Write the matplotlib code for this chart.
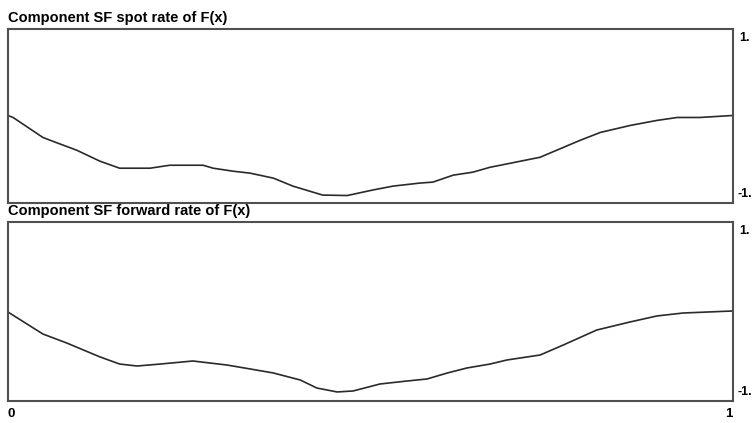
import matplotlib.pyplot as plt
import numpy as np

# component SF, spot rate
spot_x = [0.0, 0.007, 0.048, 0.062, 0.095, 0.127, 0.154, 0.196, 0.223, 0.269,
          0.283, 0.310, 0.334, 0.366, 0.393, 0.434, 0.468, 0.503, 0.531, 0.568,
          0.586, 0.614, 0.641, 0.665, 0.679, 0.734, 0.789, 0.817, 0.858, 0.895,
          0.923, 0.954, 1.0]
spot_y = [0.006, -0.017, -0.246, -0.291, -0.394, -0.52, -0.60, -0.60, -0.566, -0.566,
          -0.60, -0.634, -0.657, -0.714, -0.806, -0.909, -0.914, -0.851, -0.806, -0.771,
          -0.76, -0.68, -0.646, -0.589, -0.566, -0.474, -0.28, -0.189, -0.109, -0.051,
          -0.017, -0.017, 0.006]

# component SF, forward rate
fwd_x = [0.0, 0.048, 0.081, 0.127, 0.154, 0.178, 0.210, 0.255, 0.302, 0.334,
         0.366, 0.403, 0.426, 0.454, 0.476, 0.513, 0.550, 0.578, 0.606, 0.633,
         0.665, 0.688, 0.734, 0.766, 0.812, 0.858, 0.895, 0.931, 1.0]
fwd_y = [-0.006, -0.251, -0.352, -0.508, -0.587, -0.609, -0.587, -0.553, -0.598, -0.642,
         -0.687, -0.765, -0.855, -0.899, -0.888, -0.810, -0.777, -0.754, -0.687, -0.631,
         -0.587, -0.542, -0.486, -0.374, -0.207, -0.117, -0.050, -0.017, 0.006]

titles = ['Component SF spot rate of F(x)', 'Component SF forward rate of F(x)']
ylabels = ['1.', '-1.']
xlabels = ['0', '1']

plt.rcParams['font.family'] = ['Liberation Sans', 'DejaVu Sans']

fig = plt.figure(figsize=(7.55, 4.23), dpi=100)
fig.patch.set_facecolor('white')

W, H = 755.0, 423.0
# panel boxes in pixels: left, top, right, bottom
boxes = [(8, 29, 733, 203), (8, 222, 733, 401)]
series = [(spot_x, spot_y), (fwd_x, fwd_y)]

for (l, t, r, b), (xs, ys), title in zip(boxes, series, titles):
    ax = fig.add_axes([l / W, 1 - b / H, (r - l) / W, (b - t) / H])
    ax.plot(xs, ys, color='#2a2a2a', lw=1.2, solid_joinstyle='round')
    ax.set_xlim(0, 1)
    ax.set_ylim(-1, 1)
    ax.set_xticks([])
    ax.set_yticks([])
    for s in ax.spines.values():
        s.set_color('#505050')
        s.set_linewidth(1.5)
    fig.text(l / W, 1 - (t - 4) / H, title, fontsize=10.5, fontweight='bold',
             ha='left', va='bottom')
    ax.text(1.008, 0.985, ylabels[0], transform=ax.transAxes, fontsize=9,
            fontweight='bold', ha='left', va='top')
    ax.text(1.006, 0.015, ylabels[1], transform=ax.transAxes, fontsize=9,
            fontweight='bold', ha='left', va='bottom')

# x end labels under the lower panel
fig.text(8 / W, 1 - 408 / H, xlabels[0], fontsize=9.5, fontweight='bold',
         ha='left', va='top')
fig.text(732 / W, 1 - 408 / H, xlabels[1], fontsize=9.5, fontweight='bold',
         ha='right', va='top')

fig.savefig('out.png', dpi=100, facecolor='white')
